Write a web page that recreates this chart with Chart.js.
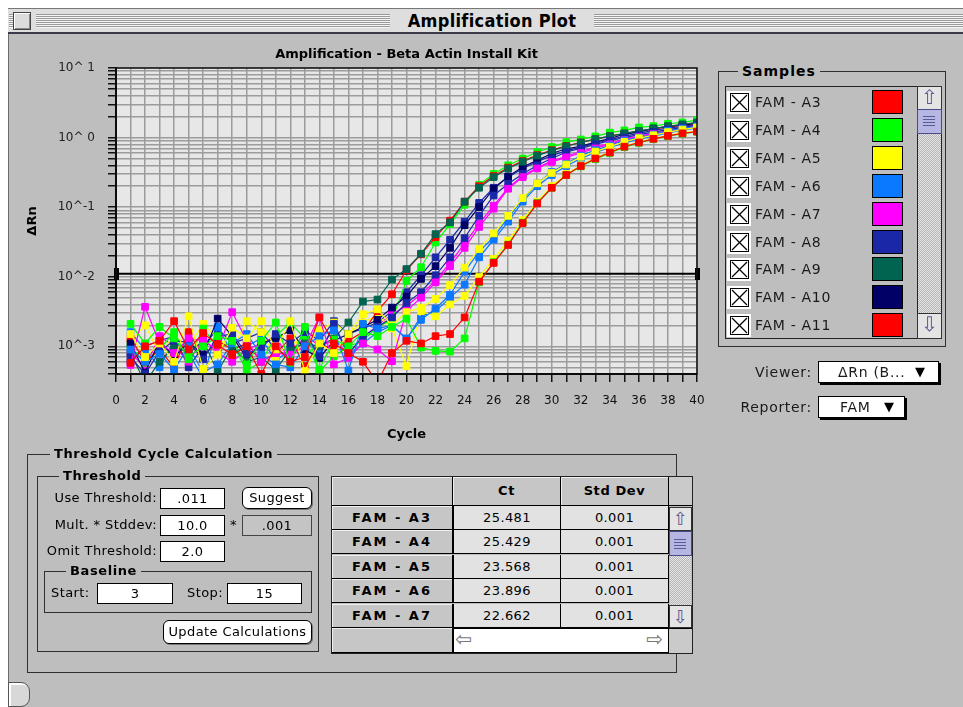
<!DOCTYPE html>
<html><head><meta charset="utf-8">
<script src="https://cdn.jsdelivr.net/npm/chart.js@4.4.1/dist/chart.umd.min.js"></script>
<style>
*{box-sizing:border-box}
html,body{margin:0;padding:0}
body{width:963px;height:707px;position:relative;overflow:hidden;background:#fff;font-family:"DejaVu Sans",sans-serif;color:#000}
.a{position:absolute;white-space:nowrap}
#win{left:8px;top:8px;width:955px;height:699px;background:#bebebe;border-left:1px solid #6a6a6a}
#tbar{left:8px;top:8px;width:955px;height:26px;background:#dedede;border-top:1px solid #777;border-bottom:2px solid #3a3a4a}
.stripes{top:14px;height:14px;background:repeating-linear-gradient(to bottom,#9a9a9a 0 1px,#f4f4f4 1px 2px)}
#closebox{left:13px;top:12px;width:18px;height:18px;border:1px solid #444;background:#dcdcdc;box-shadow:inset 1px 1px 0 #fff,inset -1px -1px 0 #888}
#wtitle{left:390px;top:9px;width:204px;height:23px;line-height:23px;text-align:center;background:#dedede;font-family:"DejaVu Sans Condensed","DejaVu Sans",sans-serif;font-weight:bold;font-size:18px;letter-spacing:.3px}
.g{font-size:13px;letter-spacing:.4px;line-height:16px;height:16px}
.g14{font-size:14px;letter-spacing:.7px;line-height:16px;height:16px;color:#1a1a1a}
.c{font-weight:bold;font-size:13px;letter-spacing:.6px;line-height:18px;height:18px;background:#bebebe;padding:0 4px}
.box{border:1px solid #303030}
.fld{background:#fff;border:1px solid #000;text-align:center;font-size:13px;letter-spacing:.4px}
.btn{background:#fff;border:1px solid #000;border-radius:6px;text-align:center;font-size:13px;letter-spacing:.4px;box-shadow:1px 1px 0 #777}
.cb{background:#fff;width:24px;height:23px}
.cbi{left:3px;top:2px;width:19px;height:19px;border:1px solid #000;background:#fff}
.sw{width:31px;height:24px;border:1px solid #000}
.arrow{background:#e4e4e4;border:1px solid #333;text-align:center;color:#5a5a92;font-size:20px;line-height:21px;overflow:hidden}
.thumb{background:#b6b6e2;border:1px solid #4a4a8a;background-image:repeating-linear-gradient(to bottom,transparent 0 2px,#5a5a9a 2px 3px);background-size:12px 13px;background-position:5px 4px;background-repeat:no-repeat}
.track{background:repeating-conic-gradient(#b4b4b4 0 25%,#e6e6e6 0 50%) 0 0/2px 2px}
.rh{background:#c6c6c6;border-right:1px solid #000;border-bottom:1px solid #000;box-shadow:inset 1px 1px 0 #efefef;text-align:center;font-weight:bold;font-size:13px;letter-spacing:2px}
.dc{background:#e2e2e2;border-right:1px solid #000;border-bottom:1px solid #000;text-align:center;font-size:13px;letter-spacing:.4px}
.dd{background:#fff;border:1px solid #000;box-shadow:2px 2px 0 #000;font-size:14px;letter-spacing:.5px}
</style>
</head>
<body>
<div id="win" class="a"></div>
<div id="tbar" class="a"></div>
<div class="a stripes" style="left:9px;width:4px"></div>
<div class="a stripes" style="left:36px;width:356px"></div>
<div class="a stripes" style="left:592px;width:371px"></div>
<div id="closebox" class="a"></div>
<div id="wtitle" class="a">Amplification Plot</div>

<canvas id="chart" width="720" height="410" class="a" style="left:0;top:41px"></canvas>

<!-- Samples group -->
<div class="a box" style="left:718px;top:71px;width:228px;height:276px"></div>
<div class="a c" style="left:738px;top:62px;font-size:14px;letter-spacing:1px">Samples</div>
<div class="a box" id="list" style="left:725px;top:86px;width:217px;height:253px;border-color:#222"></div>
<div class="a" style="left:917px;top:86px;width:1px;height:253px;background:#222"></div>
<div class="a arrow" style="left:917px;top:86px;width:25px;height:24px">⇧</div>
<div class="a thumb" style="left:917px;top:109px;width:25px;height:25px"></div>
<div class="a track" style="left:918px;top:134px;width:23px;height:180px"></div>
<div class="a arrow" style="left:917px;top:313px;width:25px;height:26px">⇩</div>

<!-- Viewer / Reporter -->
<div class="a g14" style="left:700px;width:112px;text-align:right;top:364px">Viewer:</div>
<div class="a dd" style="left:818px;top:361px;width:121px;height:22px"></div>
<div class="a g14" style="left:838px;top:364px">ΔRn (B...</div>
<div class="a" style="left:915px;top:364px;font-size:13px;line-height:16px">▼</div>
<div class="a g14" style="left:700px;width:112px;text-align:right;top:399px">Reporter:</div>
<div class="a dd" style="left:818px;top:396px;width:87px;height:22px"></div>
<div class="a g14" style="left:840px;top:399px">FAM</div>
<div class="a" style="left:884px;top:399px;font-size:13px;line-height:16px">▼</div>

<!-- Threshold Cycle Calculation -->
<div class="a box" style="left:27px;top:454px;width:650px;height:219px"></div>
<div class="a c" style="left:50px;top:445px">Threshold Cycle Calculation</div>
<div class="a box" style="left:37px;top:476px;width:282px;height:176px"></div>
<div class="a c" style="left:59px;top:467px">Threshold</div>
<div class="a g" style="left:30px;width:127px;text-align:right;top:490px">Use Threshold:</div>
<div class="a fld" style="left:160px;top:488px;width:65px;height:21px;line-height:19px">.011</div>
<div class="a btn" style="left:242px;top:487px;width:70px;height:22px;line-height:20px">Suggest</div>
<div class="a g" style="left:30px;width:127px;text-align:right;top:517px">Mult. * Stddev:</div>
<div class="a fld" style="left:160px;top:515px;width:65px;height:21px;line-height:19px">10.0</div>
<div class="a g" style="left:230px;top:517px">*</div>
<div class="a fld" style="left:242px;top:515px;width:70px;height:21px;line-height:19px;background:#c4c4c4;border-color:#444">.001</div>
<div class="a g" style="left:30px;width:127px;text-align:right;top:543px">Omit Threshold:</div>
<div class="a fld" style="left:160px;top:541px;width:65px;height:21px;line-height:19px">2.0</div>
<div class="a box" style="left:44px;top:571px;width:268px;height:42px"></div>
<div class="a c" style="left:66px;top:562px">Baseline</div>
<div class="a g" style="left:51px;top:585px">Start:</div>
<div class="a fld" style="left:97px;top:583px;width:76px;height:21px;line-height:19px">3</div>
<div class="a g" style="left:187px;top:585px">Stop:</div>
<div class="a fld" style="left:227px;top:583px;width:75px;height:21px;line-height:19px">15</div>
<div class="a btn" style="left:163px;top:620px;width:149px;height:24px;line-height:22px">Update Calculations</div>

<!-- Ct table -->
<div class="a" style="left:331px;top:476px;width:362px;height:178px;border:1px solid #222;background:#bebebe"></div>
<div class="a rh" style="left:332px;top:477px;width:121px;height:29px"></div>
<div class="a rh" style="left:453px;top:477px;width:108px;height:29px;line-height:28px;letter-spacing:.6px">Ct</div>
<div class="a rh" style="left:561px;top:477px;width:108px;height:29px;line-height:28px;letter-spacing:.6px">Std Dev</div>
<div class="a" style="left:669px;top:477px;width:23px;height:29px;background:#cacaca;border-bottom:1px solid #000"></div>
<div id="rows"></div>
<div class="a rh" style="left:332px;top:628px;width:121px;height:25px"></div>
<div class="a" style="left:453px;top:628px;width:216px;height:25px;background:#fff;border:1px solid #000"></div>
<div class="a" style="left:455px;top:629px;width:20px;height:22px;color:#777;font-size:20px;line-height:21px">⇦</div>
<div class="a" style="left:646px;top:629px;width:20px;height:22px;color:#777;font-size:20px;line-height:21px">⇨</div>
<div class="a" style="left:669px;top:628px;width:23px;height:25px;background:#cacaca;border-top:1px solid #000"></div>
<div class="a arrow" style="left:669px;top:507px;width:23px;height:24px;font-size:18px">⇧</div>
<div class="a thumb" style="left:669px;top:531px;width:23px;height:25px;background-position:4px 5px"></div>
<div class="a track" style="left:670px;top:556px;width:21px;height:49px"></div>
<div class="a arrow" style="left:669px;top:605px;width:23px;height:23px;font-size:18px">⇩</div>

<!-- grow box -->
<div class="a" style="left:8px;top:682px;width:22px;height:25px;border:1px solid #555;border-radius:0 9px 9px 0;background:#d8d8d8;box-shadow:inset 2px 2px 0 #fff"></div>

<script>
// ---------- data ----------
const cycles = [1,2,3,4,5,6,7,8,9,10,11,12,13,14,15,16,17,18,19,20,21,22,23,24,25,26,27,28,29,30,31,32,33,34,35,36,37,38,39,40];
const sampleNames = ['FAM - A3','FAM - A4','FAM - A5','FAM - A6','FAM - A7','FAM - A8','FAM - A9','FAM - A10','FAM - A11','FAM - A12','FAM - A13','FAM - A14','FAM - A15','FAM - A16'];
const sampleColors = ['#ff0000','#00ff00','#ffff00','#0a78ff','#ff00ff','#1a28a8','#006450','#000066','#ff0000','#00ff00','#ffff00','#0a78ff','#ff00ff','#1a28a8'];
const famA3 = [5.8e-4,1.0e-3,1.2e-3,2.3e-3,9.0e-4,1.55e-3,1.05e-3,7.5e-4,1.0e-3,4.0e-4,
  1.0e-3,6.0e-4,7.0e-4,2.6e-3,1.1e-3,8.0e-4,6.0e-4,3.0e-4,8.0e-4,1.2e-3,
  1.1e-3,1.4e-3,1.5e-3,2.6e-3,8.5e-3,0.0158,0.0286,0.059,0.113,0.19,
  0.29,0.39,0.50,0.61,0.74,0.85,0.96,1.06,1.15,1.22];
const famA4 = [2.1e-3,1.1e-3,1.9e-3,1.3e-3,7.2e-4,1.0e-3,1.4e-3,1.2e-3,5.5e-4,1.2e-3,
  2.2e-3,5.8e-4,1.9e-3,4.6e-4,1.25e-3,1.0e-3,1.6e-3,1.4e-3,1.9e-3,2.5e-3,
  9.6e-4,8.6e-4,8.4e-4,1.3e-3,8.3e-3,0.0162,0.029,0.060,0.115,0.19,
  0.29,0.385,0.49,0.60,0.73,0.84,0.95,1.05,1.14,1.21];
const famA5 = [1.5e-3,7.0e-4,1.1e-3,6.0e-4,2.7e-3,4.7e-4,7.6e-4,1.85e-3,1.3e-3,2.3e-3,
  9.0e-4,2.3e-3,4.4e-4,1.1e-3,8.0e-4,1.5e-3,2.9e-3,3.4e-3,2.0e-3,3.1e-3,
  3.6e-3,4.8e-3,7.6e-3,0.0135,0.025,0.042,0.075,0.135,0.22,0.31,
  0.41,0.53,0.63,0.74,0.87,0.98,1.08,1.20,1.30,1.40];
const famA6 = [9.0e-4,6.0e-4,7.8e-4,4.6e-4,1.0e-3,4.2e-4,5.5e-4,1.1e-3,1.5e-3,7.6e-4,
  5.5e-4,5.0e-4,1.0e-3,1.4e-3,1.7e-3,4.5e-4,2.1e-3,1.8e-3,2.0e-3,1.3e-3,
  2.4e-3,3.5e-3,5.5e-3,0.0118,0.023,0.037,0.071,0.13,0.22,0.32,
  0.42,0.55,0.66,0.77,0.91,1.0,1.1,1.25,1.35,1.45];
const famA7 = [5.4e-4,3.7e-3,1.1e-3,8.0e-4,1.3e-3,1.2e-3,9.0e-4,3.1e-3,1.2e-3,6.0e-4,
  8.0e-4,7.6e-4,1.0e-3,2.6e-3,5.5e-4,6.8e-4,1.1e-3,9.0e-4,6.1e-4,3.2e-3,
  5.0e-3,8.3e-3,0.0142,0.026,0.052,0.095,0.184,0.27,0.36,0.445,
  0.52,0.60,0.70,0.80,0.92,1.02,1.12,1.22,1.32,1.42];
const famA8 = [7.0e-4,4.0e-4,8.5e-4,1.2e-3,1.15e-3,6.5e-4,1.4e-3,1.5e-3,7.8e-4,9.5e-4,
  1.5e-3,1.1e-3,1.6e-3,7.2e-4,2.1e-3,7.8e-4,1.4e-3,1.9e-3,2.6e-3,4.2e-3,
  6.0e-3,0.0105,0.019,0.036,0.075,0.147,0.217,0.30,0.40,0.50,
  0.62,0.70,0.80,0.90,1.0,1.1,1.2,1.3,1.4,1.5];
const famA9 = [8.0e-4,3.0e-4,6.0e-4,1.0e-3,8.0e-4,1.2e-3,4.3e-4,1.0e-3,6.0e-4,7.0e-4,
  4.6e-4,9.0e-4,1.1e-3,1.0e-3,1.3e-3,2.2e-3,4.4e-3,4.7e-3,9.1e-3,0.0129,
  0.0214,0.041,0.0605,0.12,0.19,0.27,0.36,0.45,0.55,0.65,
  0.75,0.85,0.95,1.05,1.15,1.25,1.35,1.45,1.55,1.65];
const famA10 = [1.1e-3,4.2e-4,1.2e-3,7.0e-4,1.15e-3,7.6e-4,2.5e-3,1.4e-3,6.8e-4,1.1e-3,
  1.3e-3,1.7e-3,9.0e-4,6.8e-4,1.2e-3,1.5e-3,1.9e-3,2.4e-3,3.6e-3,5.2e-3,
  9.3e-3,0.0142,0.026,0.055,0.10,0.184,0.277,0.377,0.47,0.59,
  0.69,0.75,0.86,0.97,1.12,1.2,1.35,1.45,1.52,1.60];
const famA11 = [1.3e-3,6.0e-4,9.0e-4,5.0e-4,1.6e-3,7.0e-4,1.2e-3,9.0e-4,1.1e-3,6.0e-4,
  8.0e-4,1.3e-3,5.2e-4,1.1e-3,9.0e-4,1.2e-3,1.6e-3,3.2e-3,5.6e-3,0.0125,
  0.021,0.037,0.064,0.12,0.20,0.28,0.37,0.46,0.56,0.66,
  0.76,0.85,0.95,1.05,1.14,1.24,1.33,1.42,1.50,1.58];
const famA12 = [1.0e-3,5.8e-4,9.0e-4,1.6e-3,6.5e-4,1.8e-3,1.0e-3,1.1e-3,4.5e-4,6.0e-4,
  1.4e-3,2.2e-3,1.3e-3,4.4e-4,7.2e-4,1.0e-3,1.2e-3,1.9e-3,2.4e-3,8.7e-3,
  0.0137,0.031,0.057,0.108,0.21,0.30,0.40,0.50,0.62,0.73,
  0.86,0.94,1.04,1.18,1.27,1.40,1.46,1.58,1.65,1.78];
const famA13 = [1.2e-3,2.0e-3,8.0e-4,1.4e-3,1.0e-3,2.1e-3,1.3e-3,9.0e-4,2.3e-3,1.6e-3,
  7.0e-4,1.2e-3,1.0e-3,1.7e-3,2.2e-3,1.5e-3,2.2e-3,2.8e-3,1.8e-3,5.2e-4,
  3.2e-3,2.7e-3,4.0e-3,5.3e-3,9.9e-3,0.018,0.033,0.065,0.12,0.20,
  0.30,0.40,0.51,0.62,0.75,0.86,0.97,1.08,1.17,1.25];
const famA14 = [1.6e-3,9.0e-4,5.0e-4,1.2e-3,8.0e-4,3.5e-4,1.9e-3,8.0e-4,1.0e-3,1.3e-3,
  6.2e-4,9.0e-4,1.2e-3,8.0e-4,2.0e-3,7.5e-4,1.1e-3,1.6e-3,2.0e-3,1.26e-3,
  2.7e-3,3.2e-3,5.0e-3,7.7e-3,0.019,0.034,0.062,0.12,0.20,0.29,
  0.39,0.50,0.61,0.72,0.84,0.95,1.05,1.17,1.28,1.38];
const famA15 = [8.0e-4,5.0e-4,1.4e-3,1.0e-3,6.0e-4,1.3e-3,8.0e-4,6.0e-4,9.0e-4,1.1e-3,
  1.4e-3,6.0e-4,1.5e-3,1.0e-3,1.2e-3,8.0e-4,1.3e-3,2.0e-3,2.9e-3,3.8e-3,
  5.6e-3,8.8e-3,0.016,0.030,0.058,0.105,0.19,0.28,0.37,0.46,
  0.54,0.63,0.73,0.83,0.95,1.05,1.15,1.25,1.35,1.45];
const famA16 = [6.0e-4,1.0e-3,1.2e-3,1.4e-3,5.0e-4,1.0e-3,1.8e-3,1.1e-3,1.3e-3,1.6e-3,
  9.0e-4,7.0e-4,1.7e-3,1.2e-3,2.3e-3,1.5e-3,1.8e-3,2.2e-3,3.2e-3,6.0e-3,
  0.0105,0.019,0.034,0.062,0.115,0.19,0.27,0.36,0.45,0.55,
  0.65,0.73,0.83,0.93,1.05,1.15,1.27,1.37,1.45,1.55];
const seriesValues = [famA3,famA4,famA5,famA6,famA7,famA8,famA9,famA10,famA11,famA12,famA13,famA14,famA15,famA16];
const thresholdValue = 0.011;
const thresholdCycles = [0, 40];
const xTickValues = [0,1,2,3,4,5,6,7,8,9,10,11,12,13,14,15,16,17,18,19,20,21,22,23,24,25,26,27,28,29,30,31,32,33,34,35,36,37,38,39,40];
const xTickLabels = ['0','','2','','4','','6','','8','','10','','12','','14','','16','','18','','20','','22','','24','','26','','28','','30','','32','','34','','36','','38','','40'];
const yTickValues = [4e-4,5e-4,6e-4,7e-4,8e-4,9e-4,
  1e-3,2e-3,3e-3,4e-3,5e-3,6e-3,7e-3,8e-3,9e-3,
  0.01,0.02,0.03,0.04,0.05,0.06,0.07,0.08,0.09,
  0.1,0.2,0.3,0.4,0.5,0.6,0.7,0.8,0.9,
  1,2,3,4,5,6,7,8,9,10];
const yMajorValues = [10,1,0.1,0.01,0.001];
const yMajorLabels = ['10^ 1','10^ 0','10^-1','10^-2','10^-3'];
const visibleSamples = 9;

// ---------- samples list ----------
(function(){
  let html = '';
  for (let i = 0; i < visibleSamples; i++) {
    const t = 90 + i * 27.9;
    html += '<div class="a cb" style="left:727px;top:' + (t+1) + 'px">' +
      '<div class="a cbi"><svg width="17" height="17" style="position:absolute;left:0;top:0"><line x1="1" y1="1" x2="16" y2="16" stroke="#000" stroke-width="1.2"/><line x1="16" y1="1" x2="1" y2="16" stroke="#000" stroke-width="1.2"/></svg></div></div>';
    html += '<div class="a g14" style="left:755px;top:' + (t+4) + 'px">' + sampleNames[i] + '</div>';
    html += '<div class="a sw" style="left:872px;top:' + t + 'px;background:' + sampleColors[i] + '"></div>';
  }
  document.body.insertAdjacentHTML('beforeend', html);
})();

// ---------- Ct table ----------
const tableNames = ['FAM - A3','FAM - A4','FAM - A5','FAM - A6','FAM - A7'];
const tableCt = ['25.481','25.429','23.568','23.896','22.662'];
const tableSd = ['0.001','0.001','0.001','0.001','0.001'];
(function(){
  let html = '';
  for (let i = 0; i < tableNames.length; i++) {
    const t = 506 + i * 24.4;
    html += '<div class="a rh" style="left:332px;top:' + t + 'px;width:121px;height:24px;line-height:23px">' + tableNames[i] + '</div>';
    html += '<div class="a dc" style="left:453px;top:' + t + 'px;width:108px;height:24px;line-height:23px;border-left:1px solid #000">' + tableCt[i] + '</div>';
    html += '<div class="a dc" style="left:561px;top:' + t + 'px;width:108px;height:24px;line-height:23px">' + tableSd[i] + '</div>';
  }
  document.getElementById('rows').innerHTML = html;
})();

// ---------- chart ----------
const handle = document.createElement('canvas');
handle.width = 5; handle.height = 12;
(function(){ const h = handle.getContext('2d'); h.fillStyle = '#000'; h.fillRect(0,0,5,12); })();

const plotFrame = {
  id: 'plotFrame',
  beforeDraw(chart) {
    const {ctx, chartArea: a} = chart;
    ctx.save(); ctx.fillStyle = '#e7e7e7';
    ctx.fillRect(a.left, a.top, a.right - a.left, a.bottom - a.top);
    ctx.restore();
  },
  afterDatasetsDraw(chart) {
    const {ctx, chartArea: a} = chart;
    ctx.save(); ctx.strokeStyle = '#111'; ctx.lineWidth = 1.5;
    ctx.strokeRect(a.left, a.top, a.right - a.left, a.bottom - a.top);
    ctx.restore();
  }
};

const datasets = seriesValues.map((vals, i) => ({
  label: sampleNames[i],
  data: cycles.map((c, j) => ({x: c, y: vals[j]})),
  borderColor: sampleColors[i],
  backgroundColor: sampleColors[i],
  pointBackgroundColor: sampleColors[i],
  pointBorderColor: sampleColors[i],
  pointStyle: 'rect',
  pointRadius: 4.7,
  pointBorderWidth: 1,
  borderWidth: 1.2,
  tension: 0,
  fill: false,
  order: i
}));
datasets.push({
  label: 'Threshold',
  data: thresholdCycles.map(c => ({x: c, y: thresholdValue})),
  borderColor: '#000',
  borderWidth: 2,
  pointStyle: handle,
  pointRadius: 6,
  clip: false,
  order: 100
});

const tickFont = {family: '"DejaVu Sans", sans-serif', size: 12};
const boldFont = {family: '"DejaVu Sans", sans-serif', size: 13, weight: 'bold'};

new Chart(document.getElementById('chart'), {
  type: 'line',
  data: {datasets},
  plugins: [plotFrame],
  options: {
    responsive: false,
    animation: false,
    devicePixelRatio: 1,
    layout: {padding: {left: 0, right: 23, top: 0, bottom: 0}},
    plugins: {
      legend: {display: false},
      tooltip: {enabled: false},
      title: {
        display: true, fullSize: false,
        text: 'Amplification - Beta Actin Install Kit',
        color: '#000', font: boldFont,
        padding: {top: 6, bottom: 5.4}
      }
    },
    scales: {
      x: {
        type: 'linear', min: 0, max: 40,
        afterFit(s) { s.height = 77; },
        afterBuildTicks(s) { s.ticks = xTickValues.map(v => ({value: v})); },
        ticks: {autoSkip: false, maxRotation: 0, padding: 12, color: '#111', font: tickFont,
          callback: (v, i) => xTickLabels[i]},
        grid: {color: '#9c9c9c', lineWidth: 1.5, tickLength: 8, tickColor: '#111', tickWidth: 1.5, drawTicks: true},
        border: {color: '#000', width: 2},
        title: {display: true, text: 'Cycle', color: '#000', font: boldFont, padding: {top: 0, bottom: 9}}
      },
      y: {
        type: 'logarithmic', min: 4e-4, max: 10,
        afterFit(s) { s.width = 116; },
        afterBuildTicks(s) { s.ticks = yTickValues.map(v => ({value: v})); },
        ticks: {autoSkip: false, padding: 13, color: '#222', font: tickFont,
          callback: (v) => {
            const k = yMajorValues.findIndex(m => Math.abs(m - v) / m < 1e-6);
            return k >= 0 ? yMajorLabels[k] : '';
          }},
        grid: {color: '#9c9c9c', lineWidth: 1.5, tickLength: 8, tickColor: '#111', tickWidth: 1.5, drawTicks: true},
        border: {color: '#000', width: 2},
        title: {display: true, text: 'ΔRn', color: '#000', font: boldFont, padding: {top: 25, bottom: 0}}
      }
    }
  }
});
</script>
</body></html>
